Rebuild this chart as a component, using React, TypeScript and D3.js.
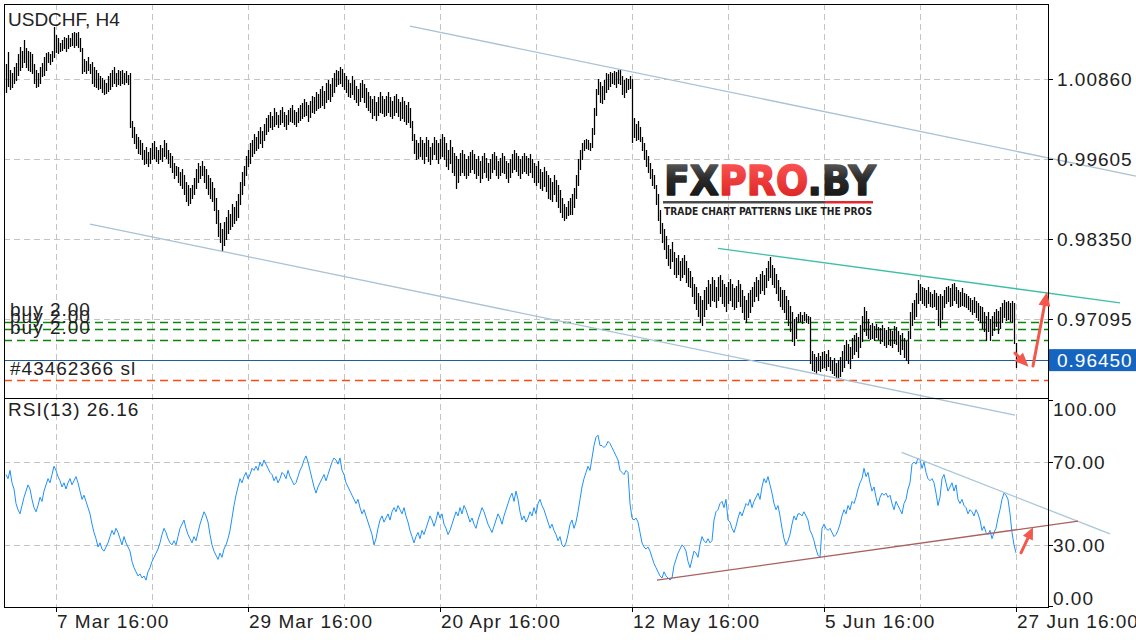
import React from "react";
import * as d3 from "d3";

// ---- DATA ----
// H4 bars of USDCHF, prices in units of 0.0001 (price x 10 000)
const highPips = [
  10110,10128,10100,10095,10105,10111,10125,10136,10130,10147,
  10135,10130,10128,10125,10110,10100,10095,10105,10111,10120,
  10127,10128,10125,10130,10168,10155,10150,10143,10148,10152,
  10150,10155,10150,10158,10160,10158,10160,10150,10135,10118,
  10115,10120,10110,10112,10105,10100,10095,10090,10088,10085,
  10080,10090,10095,10100,10105,10095,10100,10098,10100,10095,
  10098,10093,10095,10020,10010,10000,9995,9990,9985,9975,
  9980,9972,9978,9985,9988,9980,9975,9982,9978,9990,
  9985,9975,9970,9965,9955,9950,9948,9940,9945,9935,
  9925,9920,9915,9920,9930,9945,9955,9950,9958,9950,
  9945,9935,9930,9925,9915,9900,9880,9860,9850,9862,
  9870,9880,9875,9890,9885,9895,9905,9925,9940,9950,
  9965,9975,9985,9990,10000,9995,10005,10010,10005,10015,
  10025,10030,10035,10028,10040,10035,10030,10038,10042,10035,
  10030,10037,10040,10045,10038,10035,10040,10045,10048,10055,
  10050,10045,10052,10060,10058,10065,10062,10070,10075,10068,
  10080,10085,10078,10088,10095,10100,10098,10105,10102,10095,
  10090,10085,10080,10090,10085,10075,10070,10080,10085,10078,
  10072,10065,10060,10055,10060,10050,10058,10065,10060,10055,
  10060,10065,10058,10052,10060,10062,10055,10050,10058,10052,
  10045,10050,10040,10020,10000,9990,9985,9995,9990,9985,
  9995,9990,9980,9985,9995,9990,9985,9992,10000,9995,
  9985,9975,9990,9980,9970,9965,9960,9970,9975,9968,
  9960,9965,9972,9975,9968,9960,9965,9958,9965,9970,
  9962,9955,9960,9968,9972,9965,9958,9962,9970,9965,
  9958,9955,9960,9968,9975,9970,9965,9960,9965,9970,
  9966,9962,9968,9960,9955,9950,9958,9945,9940,9948,
  9942,9935,9930,9925,9935,9928,9920,9912,9900,9890,
  9885,9895,9900,9905,9915,9935,9960,9975,9985,9990,
  9992,9990,9985,10009,10040,10070,10086,10082,10075,10085,
  10096,10094,10097,10095,10099,10097,10100,10101,10090,10085,
  10088,10086,10090,10086,10025,10015,10020,10010,9995,9985,
  9975,9965,9955,9945,9935,9920,9905,9880,9860,9850,
  9840,9825,9820,9830,9815,9805,9810,9800,9805,9810,
  9800,9790,9785,9775,9765,9760,9750,9745,9740,9755,
  9760,9770,9765,9775,9770,9760,9775,9778,9770,9765,
  9760,9768,9772,9765,9758,9762,9770,9765,9755,9745,
  9740,9750,9755,9760,9768,9775,9770,9780,9785,9778,
  9790,9800,9807,9795,9790,9780,9770,9760,9755,9755,
  9745,9740,9730,9720,9710,9712,9718,9720,9716,9720,
  9718,9715,9712,9660,9655,9650,9656,9652,9658,9660,
  9655,9661,9650,9645,9648,9640,9645,9650,9660,9668,
  9676,9670,9665,9680,9685,9687,9682,9700,9715,9728,
  9722,9710,9700,9703,9698,9702,9697,9695,9700,9696,
  9692,9697,9694,9690,9698,9697,9690,9685,9688,9680,
  9675,9690,9720,9735,9739,9750,9771,9765,9760,9758,
  9755,9760,9752,9748,9755,9750,9745,9748,9745,9755,
  9760,9762,9758,9764,9766,9760,9755,9752,9758,9750,
  9748,9745,9742,9740,9744,9738,9735,9730,9728,9720,
  9715,9720,9710,9715,9720,9726,9722,9728,9735,9739,
  9736,9738,9734,9738,9735,9672,
];
const lowPips = [
  10066,10075,10070,10073,10080,10085,10092,10100,10105,10112,
  10105,10100,10098,10095,10080,10073,10075,10080,10090,10092,
  10100,10112,10110,10114,10120,10128,10127,10130,10132,10135,
  10130,10135,10138,10140,10137,10140,10136,10130,10095,10098,
  10096,10100,10095,10080,10075,10073,10070,10072,10065,10062,
  10064,10068,10070,10075,10080,10075,10078,10076,10080,10078,
  10082,10078,10010,9995,9985,9978,9970,9968,9960,9952,
  9955,9950,9955,9960,9962,9958,9955,9960,9958,9965,
  9962,9955,9948,9940,9930,9935,9925,9920,9915,9905,
  9895,9888,9892,9900,9905,9915,9925,9930,9935,9925,
  9915,9905,9900,9895,9880,9860,9840,9830,9818,9825,
  9835,9845,9850,9855,9860,9865,9870,9890,9905,9920,
  9935,9950,9955,9965,9970,9975,9978,9985,9980,9990,
  10000,10005,10010,10008,10012,10015,10010,10015,10018,10012,
  10008,10015,10020,10018,10015,10012,10018,10022,10025,10028,
  10030,10020,10027,10035,10032,10038,10040,10042,10045,10040,
  10050,10055,10052,10060,10065,10075,10078,10080,10075,10070,
  10065,10060,10058,10062,10055,10050,10045,10052,10058,10050,
  10042,10038,10035,10025,10030,10022,10030,10035,10032,10028,
  10030,10035,10028,10025,10030,10035,10028,10022,10025,10020,
  10015,10018,10010,9990,9970,9960,9962,9965,9960,9955,
  9965,9958,9952,9960,9968,9960,9955,9962,9965,9960,
  9950,9945,9955,9940,9935,9915,9925,9935,9940,9935,
  9930,9935,9940,9945,9938,9930,9935,9925,9930,9940,
  9932,9928,9930,9940,9945,9935,9930,9935,9940,9938,
  9930,9925,9932,9940,9945,9942,9935,9930,9938,9942,
  9938,9935,9940,9932,9925,9920,9925,9915,9912,9918,
  9910,9900,9898,9895,9905,9895,9885,9878,9870,9865,
  9868,9872,9875,9875,9885,9900,9920,9945,9960,9975,
  9978,9976,9975,9979,10000,10030,10062,10050,10048,10055,
  10066,10070,10075,10080,10078,10074,10080,10078,10062,10058,
  10065,10070,10072,9987,9995,9990,9992,9988,9975,9960,
  9950,9940,9930,9920,9915,9890,9865,9845,9830,9820,
  9805,9795,9790,9800,9780,9775,9780,9770,9775,9780,
  9768,9762,9760,9745,9735,9725,9715,9705,9700,9715,
  9725,9735,9730,9740,9738,9728,9740,9745,9735,9730,
  9722,9735,9740,9730,9725,9728,9738,9730,9720,9710,
  9705,9712,9720,9730,9738,9745,9740,9750,9755,9748,
  9760,9770,9775,9765,9760,9750,9740,9730,9725,9720,
  9710,9700,9690,9675,9668,9680,9705,9706,9704,9708,
  9705,9704,9640,9630,9628,9625,9630,9628,9632,9635,
  9630,9636,9629,9625,9622,9618,9617,9620,9628,9635,
  9645,9640,9632,9648,9655,9660,9650,9665,9675,9690,
  9685,9680,9678,9680,9676,9682,9678,9672,9675,9668,
  9665,9670,9668,9665,9672,9670,9660,9655,9662,9650,
  9645,9640,9680,9700,9710,9715,9735,9740,9735,9732,
  9728,9735,9730,9728,9730,9725,9700,9697,9710,9728,
  9735,9738,9730,9732,9740,9735,9728,9730,9732,9730,
  9728,9726,9722,9718,9720,9712,9708,9705,9695,9690,
  9676,9690,9676,9685,9692,9698,9687,9695,9705,9712,
  9708,9710,9706,9705,9672,9634,
];
// RSI(13), one value per bar
const rsi13 = [
  64,62,66,60,57,50,47,45,49,53,
  56,59,57,52,48,46,49,53,51,56,
  59,62,60,64,68,66,63,61,58,60,
  57,60,62,59,61,63,60,56,52,54,
  51,48,45,40,36,33,29,31,28,27,
  29,31,34,37,35,38,36,33,30,34,
  31,29,27,22,19,17,15,16,14,15,
  13,17,19,22,24,26,28,31,35,38,
  36,33,31,30,32,30,34,38,40,42,
  38,35,33,31,34,32,36,40,43,46,
  44,41,35,30,27,25,23,26,24,28,
  30,33,37,43,49,54,58,62,60,63,
  65,62,64,67,66,68,66,70,68,71,
  69,67,65,64,61,63,60,62,65,64,
  62,66,63,61,59,60,63,66,68,71,
  73,70,66,62,58,55,58,60,62,64,
  61,64,67,70,72,71,69,72,66,64,
  60,58,56,54,52,50,52,48,45,47,
  44,41,38,35,30,33,38,42,44,41,
  43,45,42,46,48,46,49,47,45,48,
  44,41,37,34,31,34,36,33,37,35,
  38,41,44,42,39,42,46,43,45,40,
  38,35,37,40,43,46,44,48,45,49,
  47,44,41,43,40,38,42,45,48,46,
  43,40,38,36,39,42,45,43,40,44,
  47,50,53,55,51,56,52,46,42,44,
  41,43,46,44,48,45,50,52,49,47,
  44,41,38,40,37,35,32,34,30,29,
  31,35,40,42,38,41,46,52,58,62,
  65,68,66,72,78,82,83,78,78,77,
  78,80,79,77,75,73,71,66,65,64,
  66,65,50,43,42,43,41,36,31,29,
  28,29,27,24,21,19,17,15,14,17,
  15,14,13,14,20,23,26,28,30,29,
  27,22,19,23,27,26,24,30,34,32,
  31,33,31,32,42,46,47,50,51,48,
  52,42,41,38,36,39,43,46,44,47,
  50,49,52,48,51,53,55,52,58,62,
  60,63,59,55,50,47,49,44,38,33,
  30,32,35,40,44,42,45,45,44,46,
  44,42,37,35,32,28,25,24,38,40,
  38,37,38,36,34,35,37,40,44,47,
  45,49,47,51,50,53,57,60,62,67,
  63,65,60,56,58,53,49,53,55,54,
  55,53,54,50,47,51,49,47,45,50,
  52,57,60,69,70,69,72,71,67,70,
  65,62,61,62,60,55,49,53,62,64,
  60,56,58,60,56,59,52,50,52,49,
  48,45,47,46,44,47,45,42,37,39,
  36,35,37,33,36,38,43,47,52,55,
  54,52,45,36,30,26.16,
];

const symbolTitle = "USDCHF, H4";
const dateTickBars = [25, 121, 217, 313, 409, 505];
const dateTickLabels = ["7 Mar 16:00", "29 Mar 16:00", "20 Apr 16:00", "12 May 16:00", "5 Jun 16:00", "27 Jun 16:00"];
const gridBars = [25, 73, 121, 169, 217, 265, 313, 361, 409, 457, 505];
const priceTicks = [1.0086, 0.99605, 0.9835, 0.97095];
const rsiTicks = [100, 70, 30, 0];
const rsiGrid = [70, 30];
const buyLevels = [0.9705, 0.9694, 0.9677];
const buyLabel = "buy 2.00";
const stopLevel = 0.9614;
const stopLabel = "#43462366 sl";
const lastPrice = 0.9645;

// trend lines (bar index, price)
const priceTrendLines = [
  { i1: 202, p1: 1.01691, i2: 565, p2: 0.99338, color: "#a9c2d6" },
  { i1: 42, p1: 0.98585, i2: 504.5, p2: 0.95589, color: "#a9c2d6" },
  { i1: 356, p1: 0.98204, i2: 557, p2: 0.97349, color: "#3dbfa6" },
];
const rsiTrendLines = [
  { i1: 447.85, r1: 74.7, i2: 552, r2: 35.3, color: "#a9c6d8" },
  { i1: 325.5, r1: 13.0, i2: 536, r2: 41.5, color: "#a8615f" },
];
const priceArrows = [
  { i1: 504.5, p1: 0.96560, i2: 511.3, p2: 0.96345 },
  { i1: 513.5, p1: 0.96358, i2: 520.5, p2: 0.97519 },
];
const rsiArrows = [{ i1: 507.5, r1: 26.2, i2: 513.5, r2: 38.5 }];

const FONT = "'Liberation Sans', Arial, Helvetica, sans-serif";

function Arrow({ x1, y1, x2, y2, head = 14, width = 12, color = "#f2584c", sw = 3 }) {
  const dx = x2 - x1, dy = y2 - y1;
  const len = Math.sqrt(dx * dx + dy * dy) || 1;
  const ux = dx / len, uy = dy / len;
  const bx = x2 - ux * head, by = y2 - uy * head;
  const px = -uy * (width / 2), py = ux * (width / 2);
  return (
    <g>
      <line x1={x1} y1={y1} x2={bx + ux * 2} y2={by + uy * 2} stroke={color} strokeWidth={sw} strokeLinecap="round" />
      <polygon points={`${x2},${y2} ${bx + px},${by + py} ${bx - px},${by - py}`} fill={color} />
    </g>
  );
}

export default function App() {
  const L = 4, R = 1048, T = 4, M = 398, B = 607;
  const x = d3.scaleLinear().domain([0, 505]).range([6, 1016]);
  const py = d3.scaleLinear().domain([0.95856, 1.02037]).range([M, T]);
  const ry = d3.scaleLinear().domain([0, 100]).range([B, 400]);
  const crisp = (v: number) => Math.round(v) + 0.5;

  const barPath = highPips
    .map((h, i) => {
      const xx = crisp(x(i));
      const y1 = Math.round(py(h / 1e4));
      const y2 = Math.round(py(lowPips[i] / 1e4)) + 1;
      return `M${xx},${y1}V${y2}`;
    })
    .join("");

  const rsiLine = d3
    .line<number>()
    .x((_, i) => x(i))
    .y((d) => ry(d))(rsi13) as string;

  const lastRsi = rsi13[rsi13.length - 1];
  const gridColor = "#c4c4c4";

  return (
    <svg width={1136} height={640} style={{ position: "absolute", left: 0, top: 0, background: "#fff" }} fontFamily={FONT}>
      <defs>
        <linearGradient id="gDark" x1="0" y1="0" x2="0" y2="1">
          <stop offset="0" stopColor="#6a6a6a" />
          <stop offset="0.45" stopColor="#2a2a2a" />
          <stop offset="1" stopColor="#0e0e0e" />
        </linearGradient>
        <linearGradient id="gRed" x1="0" y1="0" x2="0" y2="1">
          <stop offset="0" stopColor="#ff5a5a" />
          <stop offset="1" stopColor="#d81c1c" />
        </linearGradient>
      </defs>
      <rect x={0} y={0} width={1136} height={640} fill="#fff" />

      {/* grid */}
      {gridBars.map((b) => (
        <line key={"vg" + b} x1={crisp(x(b))} x2={crisp(x(b))} y1={T} y2={B} stroke={gridColor} strokeDasharray="6,4" />
      ))}
      {priceTicks.map((t) => (
        <line key={"hg" + t} x1={L} x2={R} y1={crisp(py(t))} y2={crisp(py(t))} stroke={gridColor} strokeDasharray="6,4" />
      ))}
      {rsiGrid.map((t) => (
        <line key={"rg" + t} x1={L} x2={R} y1={crisp(ry(t))} y2={crisp(ry(t))} stroke={gridColor} strokeDasharray="6,4" />
      ))}

      {/* watermark */}
      <g>
        <text x={664} y={195} fontFamily="'DejaVu Sans', sans-serif" fontWeight="bold" fontSize={41} textLength={212} lengthAdjust="spacingAndGlyphs" strokeWidth={1.6} strokeLinejoin="round">
          <tspan fill="url(#gDark)" stroke="url(#gDark)">FX</tspan>
          <tspan fill="url(#gRed)" stroke="url(#gRed)">PRO</tspan>
          <tspan fill="url(#gDark)" stroke="url(#gDark)">.BY</tspan>
        </text>
        <rect x={663} y={201} width={162} height={2.5} fill="#4a4a4a" />
        <rect x={825} y={201} width={48} height={2.5} fill="#e8262b" />
        <text x={664} y={214.5} fontFamily="'DejaVu Sans', sans-serif" fontWeight="bold" fontSize={10.5} fill="#222" textLength={208} lengthAdjust="spacingAndGlyphs">
          TRADE CHART PATTERNS LIKE THE PROS
        </text>
      </g>

      {/* order levels */}
      {buyLevels.map((p, k) => (
        <g key={"buy" + k}>
          <line x1={L} x2={R} y1={crisp(py(p))} y2={crisp(py(p))} stroke="#0a850a" strokeWidth={1.3} strokeDasharray="8,5" />
          <text x={10} y={py(p) - 6} fontSize={19} letterSpacing={1} fill="#222">{buyLabel}</text>
        </g>
      ))}
      <line x1={L} x2={R} y1={crisp(py(stopLevel))} y2={crisp(py(stopLevel))} stroke="#ff4a12" strokeWidth={1.3} strokeDasharray="8,5" />
      <text x={10} y={py(stopLevel) - 5} fontSize={19} letterSpacing={1} fill="#222">{stopLabel}</text>
      <line x1={L} x2={R} y1={crisp(py(lastPrice))} y2={crisp(py(lastPrice))} stroke="#1f5ca4" strokeWidth={1.2} />

      {/* price bars */}
      <path d={barPath} stroke="#000" strokeWidth={1.25} fill="none" />

      {/* trend lines */}
      {priceTrendLines.map((l, k) => (
        <line key={"pt" + k} x1={x(l.i1)} y1={py(l.p1)} x2={x(l.i2)} y2={py(l.p2)} stroke={l.color} strokeWidth={1.3} />
      ))}

      {/* RSI */}
      <path d={rsiLine} stroke="#1e90ff" strokeWidth={1} fill="none" />
      {rsiTrendLines.map((l, k) => (
        <line key={"rt" + k} x1={x(l.i1)} y1={ry(l.r1)} x2={x(l.i2)} y2={ry(l.r2)} stroke={l.color} strokeWidth={1.3} />
      ))}

      {/* frame */}
      <rect x={L + 0.5} y={T + 0.5} width={R - L} height={B - T} fill="none" stroke="#000" strokeWidth={1} />
      <line x1={L} x2={R} y1={M + 0.5} y2={M + 0.5} stroke="#000" />

      {/* arrows */}
      {priceArrows.map((a, k) => (
        <Arrow key={"pa" + k} x1={x(a.i1)} y1={py(a.p1)} x2={x(a.i2)} y2={py(a.p2)} />
      ))}
      {rsiArrows.map((a, k) => (
        <Arrow key={"ra" + k} x1={x(a.i1)} y1={ry(a.r1)} x2={x(a.i2)} y2={ry(a.r2)} head={12} width={11} />
      ))}

      {/* titles */}
      <text x={8} y={26} fontSize={19} fill="#222">{symbolTitle}</text>
      <text x={8} y={416} fontSize={19} letterSpacing={1} fill="#222">{`RSI(13) ${lastRsi.toFixed(2)}`}</text>

      {/* right price axis */}
      {priceTicks.map((t) => (
        <g key={"pl" + t}>
          <line x1={R} x2={R + 5} y1={crisp(py(t))} y2={crisp(py(t))} stroke="#000" />
          <text x={1057} y={py(t) + 7} fontSize={19} letterSpacing={1} fill="#222">{t.toFixed(5)}</text>
        </g>
      ))}
      <rect x={1049} y={py(lastPrice) - 11} width={87} height={22} fill="#1565c0" />
      <text x={1057} y={py(lastPrice) + 7} fontSize={19} letterSpacing={1} fill="#fff">{lastPrice.toFixed(5)}</text>

      {/* right RSI axis */}
      {rsiTicks.map((t) => {
        const y = ry(t);
        const by = t === 100 ? y + 16 : t === 0 ? y - 2 : y + 7;
        return (
          <g key={"rl" + t}>
            <line x1={R} x2={R + 5} y1={crisp(y) - (t === 0 ? 1 : 0)} y2={crisp(y) - (t === 0 ? 1 : 0)} stroke="#000" />
            <text x={1053} y={by} fontSize={19} letterSpacing={1} fill="#222">{t.toFixed(2)}</text>
          </g>
        );
      })}

      {/* time axis */}
      {dateTickBars.map((b, k) => (
        <g key={"dt" + b}>
          <line x1={crisp(x(b))} x2={crisp(x(b))} y1={B} y2={B + 5} stroke="#000" />
          <text x={x(b) + 1} y={628} fontSize={19} letterSpacing={1} fill="#222">{dateTickLabels[k]}</text>
        </g>
      ))}
    </svg>
  );
}
